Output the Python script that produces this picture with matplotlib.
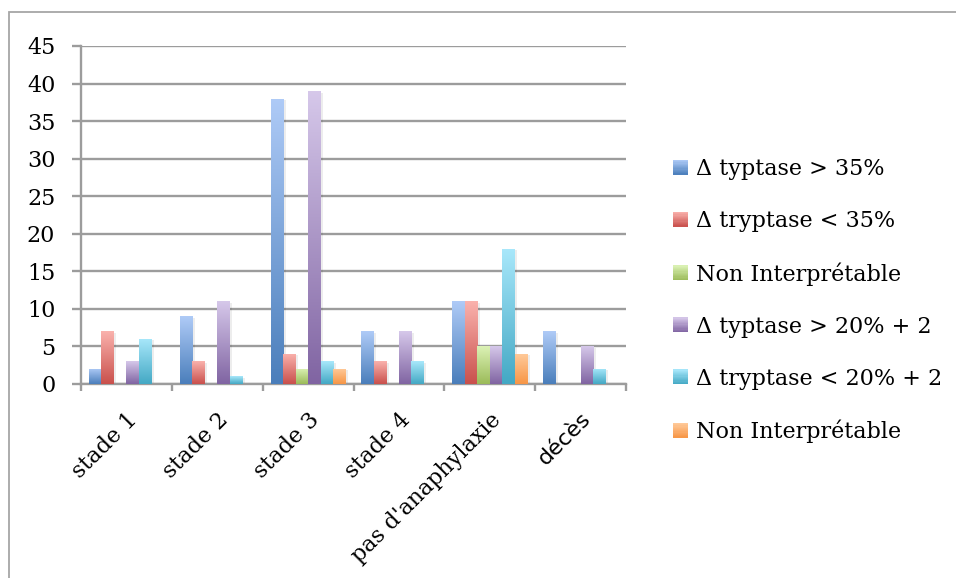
import numpy as np
import matplotlib
matplotlib.use("Agg")
import matplotlib.pyplot as plt
from matplotlib.patches import Rectangle
from matplotlib.colors import LinearSegmentedColormap
from matplotlib.legend_handler import HandlerBase
import matplotlib.transforms as mtransforms

categories = ["stade 1", "stade 2", "stade 3", "stade 4", "pas d'anaphylaxie", "décès"]
series_labels = [
    "Δ typtase > 35%",
    "Δ tryptase < 35%",
    "Non Interprétable",
    "Δ typtase > 20% + 2",
    "Δ tryptase < 20% + 2",
    "Non Interprétable",
]
typtase_35 = [2, 9, 38, 7, 11, 7]
tryptase_35 = [7, 3, 4, 3, 11, 0]
non_interp_1 = [0, 0, 2, 0, 5, 0]
typtase_20 = [3, 11, 39, 7, 5, 5]
tryptase_20 = [6, 1, 3, 3, 18, 2]
non_interp_2 = [0, 0, 2, 0, 4, 0]
series_values = [typtase_35, tryptase_35, non_interp_1, typtase_20, tryptase_20, non_interp_2]
y_ticks = [0, 5, 10, 15, 20, 25, 30, 35, 40, 45]

# (light top, dark bottom) gradient per series
gradients = [
    ("#afcbf7", "#4a7ebb"),
    ("#fab2ad", "#c9504c"),
    ("#dcf2b6", "#9bbb59"),
    ("#d6c8ea", "#8064a2"),
    ("#a9e8fb", "#43a8c4"),
    ("#ffcb9c", "#f79646"),
]
cmaps = [LinearSegmentedColormap.from_list(f"g{j}", [d, l])
         for j, (l, d) in enumerate(gradients)]

W, H = 956, 578
fig = plt.figure(figsize=(W / 100, H / 100), dpi=100)
serif = ["DejaVu Serif"]
fs = 16

# outer frame
fig.patches.append(Rectangle((8.5 / W, -0.05), 1.1, 1 - 12 / H + 0.05,
                             transform=fig.transFigure, fill=False,
                             edgecolor="#a6a6a6", linewidth=1.3))

ax = fig.add_axes([81 / W, 1 - 384 / H, 545 / W, 338 / H])
grid_c = "#9c9c9c"

n = len(series_values)
bw = 0.1376
x = np.arange(len(categories))
grad = np.linspace(0, 1, 256).reshape(-1, 1)

shadow = mtransforms.offset_copy(ax.transData, fig=fig, x=2.5, y=-1.5, units="dots")
for j, vals in enumerate(series_values):
    pos = x + (j - (n - 1) / 2) * bw
    # soft drop shadow
    ax.bar(pos, vals, width=bw, color="#000000", alpha=0.07, zorder=2.5,
           transform=shadow, linewidth=0)
    bars = ax.bar(pos, vals, width=bw, color=gradients[j][1], zorder=3, linewidth=0)
    for b in bars:
        h = b.get_height()
        if h <= 0:
            continue
        x0 = b.get_x()
        im = ax.imshow(grad, cmap=cmaps[j], origin="lower", aspect="auto",
                       extent=(x0, x0 + b.get_width(), 0, h), zorder=3.1,
                       interpolation="bilinear")
        im.set_clip_path(b)

ax.set_xlim(-0.5, len(categories) - 0.5)
ax.set_ylim(0, 45)
ax.set_yticks(y_ticks)
ax.set_yticklabels([str(v) for v in y_ticks], fontsize=fs, family=serif)
ax.yaxis.grid(True, color=grid_c, linewidth=1.7, zorder=1)
ax.set_axisbelow(True)

for s in ["top", "right"]:
    ax.spines[s].set_visible(False)
for s in ["left", "bottom"]:
    ax.spines[s].set_color(grid_c)
    ax.spines[s].set_linewidth(1.7)

ax.tick_params(axis="y", length=6.5, width=1.7, color=grid_c, pad=12)
ax.set_xticks(x)
ax.set_xticks(np.arange(-0.5, len(categories)), minor=True)
ax.tick_params(axis="x", which="major", length=0, pad=18)
ax.tick_params(axis="x", which="minor", length=5, width=1.7, color=grid_c)
labels = ax.set_xticklabels(categories, rotation=45, ha="right",
                            rotation_mode="anchor", fontsize=fs, family=serif)
labels[-1].set_family(["DejaVu Sans"])


class GradientSquare(HandlerBase):
    """Legend key drawn as a small vertical gradient square."""

    def __init__(self, cmap):
        super().__init__()
        self.cmap = cmap

    def create_artists(self, legend, orig_handle, xdescent, ydescent,
                       width, height, fontsize, trans):
        arts = []
        steps = 12
        for k in range(steps):
            c = self.cmap(1 - (k + 0.5) / steps)
            arts.append(Rectangle((-xdescent, -ydescent + height * (1 - (k + 1) / steps)),
                                  width, height / steps, facecolor=c,
                                  edgecolor="none", transform=trans))
        return arts


handles = [Rectangle((0, 0), 1, 1) for _ in range(n)]
leg = fig.legend(handles, series_labels, loc="upper left",
                 bbox_to_anchor=(673 / W, 1 - 158 / H),
                 handler_map={h: GradientSquare(cmaps[j]) for j, h in enumerate(handles)},
                 frameon=False, prop={"family": serif, "size": fs},
                 handlelength=0.68, handleheight=0.64, handletextpad=0.35,
                 labelspacing=1.35, borderpad=0, borderaxespad=0)

fig.savefig("out.png", dpi=100)
